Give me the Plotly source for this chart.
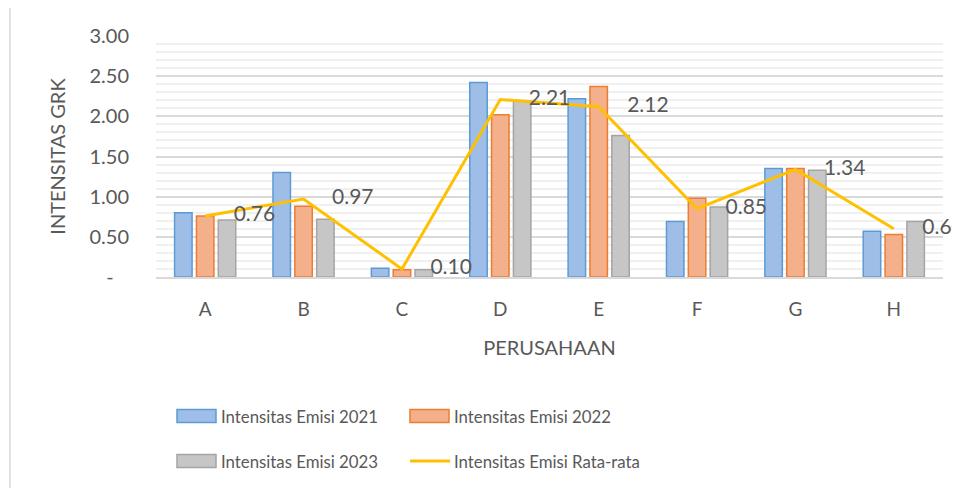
import plotly.graph_objects as go

categories = ["A", "B", "C", "D", "E", "F", "G", "H"]
emisi_2021 = [0.80, 1.30, 0.11, 2.42, 2.22, 0.69, 1.35, 0.57]
emisi_2022 = [0.76, 0.88, 0.09, 2.02, 2.37, 0.98, 1.35, 0.53]
emisi_2023 = [0.71, 0.72, 0.09, 2.19, 1.76, 0.87, 1.33, 0.69]
emisi_rata = [0.76, 0.97, 0.10, 2.21, 2.12, 0.85, 1.34, 0.60]
tick_vals = [0, 0.5, 1.0, 1.5, 2.0, 2.5, 3.0]
tick_text = ["-\u00a0\u00a0\u00a0", "0.50", "1.00", "1.50", "2.00", "2.50", "3.00"]
series_names = ["Intensitas Emisi 2021", "Intensitas Emisi 2022",
                "Intensitas Emisi 2023", "Intensitas Emisi Rata-rata"]

FONT = "Lato"
TXT = "#595959"
fills = ["#9fbee7", "#f4b08a", "#c6c6c6"]
borders = ["#5b9bd5", "#ed7d31", "#a5a5a5"]
line_col = "#ffc000"

OFF = 8  # page body margin
W, H = 960, 488
# target plot area in screen pixels: x 156..943, y 36..277
L = 156 - OFF
T = 36 - OFF
PW = 943 - 156
PH = 277 - 36
R = W - L - PW
B = H - T - PH


def px(x):
    return (x - OFF - L) / PW


def py(y):
    return (T + PH - (y - OFF)) / PH


fig = go.Figure()
for name, vals, fc, bc in zip(series_names[:3], [emisi_2021, emisi_2022, emisi_2023], fills, borders):
    fig.add_trace(go.Bar(x=categories, y=vals, name=name,
                         marker=dict(color=fc, line=dict(color=bc, width=1.5)),
                         showlegend=False))

fig.add_trace(go.Scatter(x=categories, y=emisi_rata, name=series_names[3],
                         mode="lines+markers+text",
                         line=dict(color=line_col, width=3),
                         marker=dict(size=44, color="rgba(0,0,0,0)"),
                         text=[f"{v:.2f}" for v in emisi_rata],
                         textposition="middle right",
                         textfont=dict(family=FONT, size=21, color=TXT),
                         cliponaxis=False, showlegend=False))

shapes = []
annotations = []
# chart border
shapes.append(dict(type="rect", xref="paper", yref="paper",
                   x0=px(10), x1=px(990), y0=py(520), y1=py(7),
                   line=dict(color="#d9d9d9", width=1.5), fillcolor="rgba(0,0,0,0)", layer="below"))

# custom legend
leg_pos = [(177, 416), (410, 416), (177, 461), (410, 461)]
for i, (name, (lx, ly)) in enumerate(zip(series_names, leg_pos)):
    if i < 3:
        shapes.append(dict(type="rect", xref="paper", yref="paper",
                           x0=px(lx), x1=px(lx + 39), y0=py(ly + 6.5), y1=py(ly - 6.5),
                           fillcolor=fills[i], line=dict(color=borders[i], width=1.5)))
    else:
        shapes.append(dict(type="line", xref="paper", yref="paper",
                           x0=px(lx), x1=px(lx + 40), y0=py(ly), y1=py(ly),
                           line=dict(color=line_col, width=3)))
    annotations.append(dict(xref="paper", yref="paper", x=px(lx + 42), y=py(ly),
                            xanchor="left", yanchor="middle", showarrow=False,
                            text=name, font=dict(family=FONT, size=16.8, color=TXT)))

fig.update_layout(
    width=W, height=H,
    margin=dict(l=L, r=R, t=T, b=B, autoexpand=False),
    paper_bgcolor="white", plot_bgcolor="white",
    barmode="group", bargap=0.334, bargroupgap=0.2,
    font=dict(family=FONT, color=TXT),
    shapes=shapes, annotations=annotations,
    xaxis=dict(type="category", range=[-0.5, len(categories) - 0.5],
               showline=True, linecolor="#d9d9d9", linewidth=1.5,
               showgrid=False, ticks="", ticklabelstandoff=14,
               tickfont=dict(family=FONT, size=19, color=TXT),
               title=dict(text="PERUSAHAAN", font=dict(family=FONT, size=20, color=TXT), standoff=22)),
    yaxis=dict(range=[0, 3.0], tickvals=tick_vals, ticktext=tick_text,
               showgrid=True, gridcolor="#d9d9d9", gridwidth=1.5, zeroline=False,
               minor=dict(dtick=0.1, showgrid=True, gridcolor="#f0f0f0", gridwidth=1.5),
               ticks="", ticklabelstandoff=26,
               tickfont=dict(family=FONT, size=20, color=TXT),
               title=dict(text="INTENSITAS GRK", font=dict(family=FONT, size=20, color=TXT), standoff=18)),
)

fig.write_html("out.html")
